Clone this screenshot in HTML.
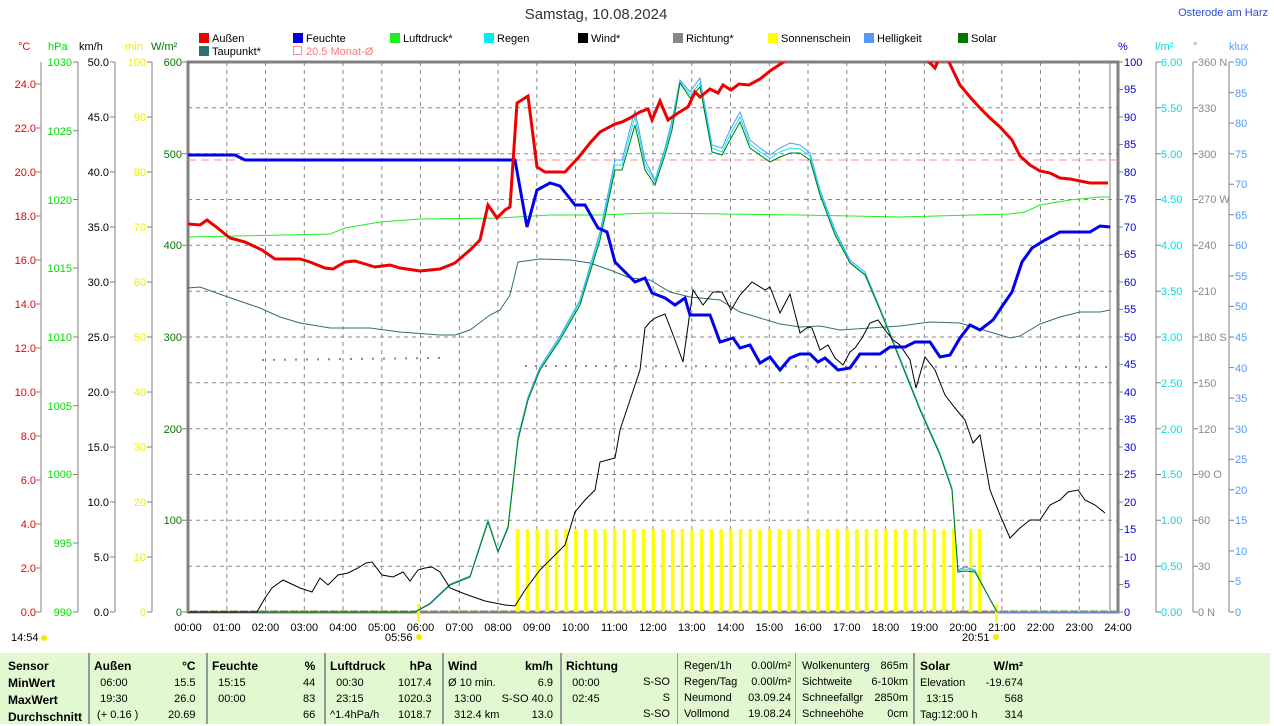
<!DOCTYPE html>
<html><head><meta charset="utf-8"><style>
body{margin:0;width:1274px;height:724px;background:#fff;overflow:hidden;font-family:"Liberation Sans",sans-serif;}
svg{position:absolute;left:0;top:0}
text{font-family:"Liberation Sans",sans-serif;font-size:11px}
.tb{position:absolute;left:0;top:653px;width:1270px;height:71px;background:#e2f8d0;font-size:11px}
.c{position:absolute;top:0;height:71px;border-left:2px solid #999}
.r{position:absolute;white-space:nowrap}
b{font-weight:bold;font-size:12px}
</style></head><body>
<svg width="1274" height="724">
<defs><pattern id="sun" patternUnits="userSpaceOnUse" x="516" y="0" width="9.6875" height="10"><rect x="0" y="0" width="3.5" height="10" fill="#ffff00"/></pattern></defs>
<text x="596" y="19" font-size="14" text-anchor="middle" style="font-size:15px" fill="#333">Samstag, 10.08.2024</text>
<text x="1268" y="16" text-anchor="end" fill="#2a4adf">Osterode am Harz</text>
<!-- legend -->
<g>
<rect x="199" y="33" width="10" height="10" fill="#e00"/><text x="212" y="42">Außen</text>
<rect x="293" y="33" width="10" height="10" fill="#00d"/><text x="306" y="42">Feuchte</text>
<rect x="390" y="33" width="10" height="10" fill="#2e2"/><text x="403" y="42">Luftdruck*</text>
<rect x="484" y="33" width="10" height="10" fill="#0ee"/><text x="497" y="42">Regen</text>
<rect x="578" y="33" width="10" height="10" fill="#000"/><text x="591" y="42">Wind*</text>
<rect x="673" y="33" width="10" height="10" fill="#888"/><text x="686" y="42">Richtung*</text>
<rect x="768" y="33" width="10" height="10" fill="#ff0"/><text x="781" y="42">Sonnenschein</text>
<rect x="864" y="33" width="10" height="10" fill="#59f"/><text x="877" y="42">Helligkeit</text>
<rect x="958" y="33" width="10" height="10" fill="#070"/><text x="971" y="42">Solar</text>
<rect x="199" y="46" width="10" height="10" fill="#2f7070"/><text x="212" y="55">Taupunkt*</text>
<rect x="293.5" y="46.5" width="8" height="8" fill="none" stroke="#f88"/><text x="306" y="55" fill="#f77">20.5 Monat-Ø</text>
</g>
<!-- unit headers -->
<text x="18" y="50" fill="#e00">°C</text><text x="48" y="50" fill="#0d0">hPa</text><text x="79" y="50">km/h</text><text x="125" y="50" fill="#ee0">min</text><text x="151" y="50" fill="#070">W/m²</text>
<text x="1118" y="50" fill="#00d">%</text><text x="1155" y="50" fill="#0dd">l/m²</text><text x="1193" y="50" fill="#888">°</text><text x="1229" y="50" fill="#59f">klux</text>
<!-- grid -->
<g stroke="#888" stroke-dasharray="4,4" stroke-width="1">
<path d="M188 107.8H1118M188 153.7H1118M188 199.5H1118M188 245.3H1118M188 291.2H1118M188 337H1118M188 382.8H1118M188 428.7H1118M188 474.5H1118M188 520.3H1118M188 566.2H1118"/>
<path d="M226.8 62V612M265.5 62V612M304.3 62V612M343 62V612M381.8 62V612M420.5 62V612M459.3 62V612M498 62V612M536.8 62V612M575.5 62V612M614.3 62V612M653 62V612M691.8 62V612M730.5 62V612M769.3 62V612M808 62V612M846.8 62V612M885.5 62V612M924.3 62V612M963 62V612M1001.8 62V612M1040.5 62V612M1079.3 62V612"/>
</g>
<!-- axes lines -->
<g stroke="#808080" fill="none">
<path d="M41 62V612M78 62V612M115 62V612M152 62V612M1156 62V612M1193 62V612M1229 62V612"/>
<rect x="188" y="62" width="930" height="550" stroke-width="3"/>
<path d="M1110 62V612" stroke-width="1"/>
</g>
<!-- sunshine -->
<rect x="516" y="529" width="440" height="83" fill="url(#sun)"/>
<rect x="969" y="529" width="3.5" height="83" fill="#ff0"/><rect x="978" y="529" width="3.5" height="83" fill="#ff0"/>
<line x1="188" y1="611" x2="1118" y2="611" stroke="#ee0" stroke-dasharray="2,8"/>
<rect x="417" y="604" width="3" height="18" fill="#ff0"/><rect x="995" y="604" width="3" height="18" fill="#ff0"/>
<!-- direction dots -->
<line x1="262" y1="360" x2="440" y2="358" stroke="#888" stroke-dasharray="2,9" stroke-width="2"/>
<line x1="525" y1="366" x2="1110" y2="367" stroke="#888" stroke-dasharray="2,8" stroke-width="2"/>
<!-- monthly avg -->
<line x1="188" y1="160" x2="1118" y2="160" stroke="#f88" stroke-dasharray="8,5"/>
<!-- pressure -->
<polyline fill="none" stroke="#2e2" points="188,237 330,234 345,228 380,222 420,219 500,218 550,215 600,215 650,213 800,215 900,217 1010,214 1025,212 1040,205 1070,200 1100,197 1110,197"/>
<!-- dewpoint -->
<polyline fill="none" stroke="#2f7070" points="188,288 200,287 225,296 260,308 280,317 300,323 330,328 370,328 400,332 440,335 455,335 470,330 490,315 500,310 510,295 518,262 540,259 570,260 590,263 610,270 630,278 650,280 670,292 690,297 720,300 740,312 760,318 780,324 800,327 820,326 840,330 870,328 900,326 930,322 960,323 990,332 1010,338 1020,336 1040,324 1060,317 1080,312 1100,312 1110,310"/>
<!-- helligkeit / regen / solar -->
<polyline fill="none" stroke="#59f" points="188,612 415,612 430,603 450,584 470,576 488,520 498,551 508,526 518,437 528,397 540,367 560,336 580,300 600,232 615,160 622,160 635,110 645,160 655,180 665,148 672,120 680,80 690,92 700,78 712,145 722,148 730,130 740,112 750,140 760,148 770,155 780,148 790,143 800,145 810,153 820,190 835,230 850,260 865,272 880,308 900,358 920,408 940,453 952,488 958,570 965,567 975,570 985,590 997,612 1118,612"/>
<polyline fill="none" stroke="#0ee" points="188,612 415,612 430,604 450,585 470,577 488,521 498,552 508,527 518,439 528,399 540,369 560,338 580,302 600,236 615,165 622,165 635,117 645,165 655,182 665,151 672,125 680,82 690,95 700,83 712,148 722,152 730,135 740,117 750,144 760,152 770,158 780,152 790,148 800,149 810,156 820,192 835,232 850,262 865,274 880,309 900,359 920,409 940,454 952,489 958,571 965,569 975,571 985,590 997,612"/>
<polyline fill="none" stroke="#070" points="188,612 415,612 430,604 450,585 470,577 488,522 498,552 508,528 518,440 528,400 540,370 560,340 580,305 600,240 615,170 622,170 635,125 645,170 655,185 665,155 672,130 680,83 690,98 700,87 712,152 722,155 730,140 740,122 750,148 760,155 770,162 780,157 790,153 800,153 810,160 820,195 835,235 850,263 865,275 880,310 900,360 920,410 940,455 952,490 958,572 965,571 975,572 985,590 997,612"/>
<!-- wind -->
<polyline fill="none" stroke="#000" points="188,612 257,612 265,598 272,588 283,580 300,588 312,592 320,578 328,585 338,575 348,573 358,568 366,563 372,562 382,575 393,577 403,572 410,581 418,570 425,568 432,567 440,572 450,588 465,594 485,601 505,605 515,606 525,590 540,570 550,560 565,545 575,512 585,500 595,490 600,462 615,458 620,430 635,385 640,370 645,328 650,322 655,318 665,314 675,340 683,362 693,290 703,305 713,292 722,292 731,310 740,295 752,282 765,290 770,287 780,313 790,294 800,333 808,327 812,328 820,350 828,345 835,358 843,365 850,352 855,348 862,338 870,323 878,320 885,330 893,340 900,345 910,360 916,388 925,357 935,370 945,395 955,408 965,420 973,443 980,435 990,490 1000,515 1010,538 1020,528 1030,520 1040,520 1050,505 1060,500 1068,492 1078,490 1085,500 1095,505 1105,513"/>
<!-- humidity -->
<polyline fill="none" stroke="#00e" stroke-width="3" points="188,155 235,155 245,160 515,160 527,227 537,190 550,183 560,186 575,205 585,205 598,228 607,232 615,262 625,272 635,282 645,278 652,293 665,298 675,305 685,298 690,315 710,315 720,342 733,338 740,348 750,345 760,363 770,357 780,370 790,358 800,354 810,354 818,362 825,358 838,370 850,368 860,354 880,354 890,347 905,347 915,342 930,342 940,357 950,355 960,338 970,325 980,330 993,320 1003,305 1012,292 1022,262 1032,248 1045,240 1060,232 1090,232 1100,226 1110,227"/>
<!-- temperature -->
<svg x="188" y="62" width="930" height="550" viewBox="188 62 930 550" overflow="hidden">
<polyline fill="none" stroke="#e00" stroke-width="3" points="188,224 200,225 207,220 215,226 230,238 245,242 262,250 275,259 300,259 310,262 325,268 333,269 345,262 355,261 365,264 375,267 390,265 400,268 420,271 440,269 455,263 470,250 480,240 488,205 497,218 505,210 510,207 517,103 528,96 537,167 545,172 565,172 578,158 590,143 600,132 615,124 622,122 630,118 640,112 648,109 652,120 660,101 668,120 678,113 688,107 695,92 700,97 710,89 718,93 723,85 731,90 739,84 749,85 760,79 770,71 785,61 800,55 880,55 900,60 925,58 935,68 940,56 948,60 960,85 970,97 980,108 990,118 1000,127 1012,140 1020,156 1030,165 1040,171 1050,173 1060,178 1070,179 1080,181 1090,183 1108,183"/>
</svg>
<!-- left ticks -->
<g fill="#e00" text-anchor="end">
<text x="36" y="616">0.0</text><text x="36" y="572">2.0</text><text x="36" y="528">4.0</text><text x="36" y="484">6.0</text><text x="36" y="440">8.0</text><text x="36" y="396">10.0</text><text x="36" y="352">12.0</text><text x="36" y="308">14.0</text><text x="36" y="264">16.0</text><text x="36" y="220">18.0</text><text x="36" y="176">20.0</text><text x="36" y="132">22.0</text><text x="36" y="88">24.0</text>
</g>
<g stroke="#808080"><path d="M36 612h5M36 568h5M36 524h5M36 480h5M36 436h5M36 392h5M36 348h5M36 304h5M36 260h5M36 216h5M36 172h5M36 128h5M36 84h5"/>
<path d="M73 612h5M73 543h5M73 474.5h5M73 405.8h5M73 337h5M73 268h5M73 199.5h5M73 130.8h5M73 62h5"/>
<path d="M110 612h5M110 557h5M110 502h5M110 447h5M110 392h5M110 337h5M110 282h5M110 227h5M110 172h5M110 117h5M110 62h5"/>
<path d="M147 612h5M147 557h5M147 502h5M147 447h5M147 392h5M147 337h5M147 282h5M147 227h5M147 172h5M147 117h5M147 62h5"/>
<path d="M182 612h5M182 520.3h5M182 428.7h5M182 337h5M182 245.3h5M182 153.7h5M182 62h5"/>
</g>
<g fill="#0d0" text-anchor="end"><text x="72" y="616">990</text><text x="72" y="547">995</text><text x="72" y="478">1000</text><text x="72" y="410">1005</text><text x="72" y="341">1010</text><text x="72" y="272">1015</text><text x="72" y="204">1020</text><text x="72" y="135">1025</text><text x="72" y="66">1030</text></g>
<g fill="#000" text-anchor="end"><text x="109" y="616">0.0</text><text x="109" y="561">5.0</text><text x="109" y="506">10.0</text><text x="109" y="451">15.0</text><text x="109" y="396">20.0</text><text x="109" y="341">25.0</text><text x="109" y="286">30.0</text><text x="109" y="231">35.0</text><text x="109" y="176">40.0</text><text x="109" y="121">45.0</text><text x="109" y="66">50.0</text></g>
<g fill="#ee0" text-anchor="end"><text x="146" y="616">0</text><text x="146" y="561">10</text><text x="146" y="506">20</text><text x="146" y="451">30</text><text x="146" y="396">40</text><text x="146" y="341">50</text><text x="146" y="286">60</text><text x="146" y="231">70</text><text x="146" y="176">80</text><text x="146" y="121">90</text><text x="146" y="66">100</text></g>
<g fill="#070" text-anchor="end"><text x="182" y="616">0</text><text x="182" y="524">100</text><text x="182" y="433">200</text><text x="182" y="341">300</text><text x="182" y="249">400</text><text x="182" y="158">500</text><text x="182" y="66">600</text></g>
<!-- right ticks -->
<g stroke="#808080"><path id="rt" d="M1118 612h5M1118 584.5h5M1118 557h5M1118 529.5h5M1118 502h5M1118 474.5h5M1118 447h5M1118 419.5h5M1118 392h5M1118 364.5h5M1118 337h5M1118 309.5h5M1118 282h5M1118 254.5h5M1118 227h5M1118 199.5h5M1118 172h5M1118 144.5h5M1118 117h5M1118 89.5h5M1118 62h5"/>
<path d="M1156 612h5M1156 566.2h5M1156 520.3h5M1156 474.5h5M1156 428.7h5M1156 382.8h5M1156 337h5M1156 291.2h5M1156 245.3h5M1156 199.5h5M1156 153.7h5M1156 107.8h5M1156 62h5"/>
<path d="M1193 612h5M1193 566.2h5M1193 520.3h5M1193 474.5h5M1193 428.7h5M1193 382.8h5M1193 337h5M1193 291.2h5M1193 245.3h5M1193 199.5h5M1193 153.7h5M1193 107.8h5M1193 62h5"/>
<path d="M1229 612h5M1229 581.4h5M1229 550.9h5M1229 520.3h5M1229 489.8h5M1229 459.2h5M1229 428.7h5M1229 398.1h5M1229 367.6h5M1229 337h5M1229 306.4h5M1229 275.9h5M1229 245.3h5M1229 214.8h5M1229 184.2h5M1229 153.7h5M1229 123.1h5M1229 92.6h5M1229 62h5"/>
</g>
<g fill="#00d"><text x="1124" y="616">0</text><text x="1124" y="588">5</text><text x="1124" y="561">10</text><text x="1124" y="533">15</text><text x="1124" y="506">20</text><text x="1124" y="478">25</text><text x="1124" y="451">30</text><text x="1124" y="423">35</text><text x="1124" y="396">40</text><text x="1124" y="368">45</text><text x="1124" y="341">50</text><text x="1124" y="313">55</text><text x="1124" y="286">60</text><text x="1124" y="258">65</text><text x="1124" y="231">70</text><text x="1124" y="203">75</text><text x="1124" y="176">80</text><text x="1124" y="148">85</text><text x="1124" y="121">90</text><text x="1124" y="93">95</text><text x="1124" y="66">100</text></g>
<g fill="#0dd"><text x="1161" y="616">0.00</text><text x="1161" y="570">0.50</text><text x="1161" y="524">1.00</text><text x="1161" y="478">1.50</text><text x="1161" y="433">2.00</text><text x="1161" y="387">2.50</text><text x="1161" y="341">3.00</text><text x="1161" y="295">3.50</text><text x="1161" y="249">4.00</text><text x="1161" y="203">4.50</text><text x="1161" y="158">5.00</text><text x="1161" y="112">5.50</text><text x="1161" y="66">6.00</text></g>
<g fill="#888"><text x="1198" y="616">0  N</text><text x="1198" y="570">30</text><text x="1198" y="524">60</text><text x="1198" y="478">90  O</text><text x="1198" y="433">120</text><text x="1198" y="387">150</text><text x="1198" y="341">180 S</text><text x="1198" y="295">210</text><text x="1198" y="249">240</text><text x="1198" y="203">270 W</text><text x="1198" y="158">300</text><text x="1198" y="112">330</text><text x="1198" y="66">360 N</text></g>
<g fill="#59f"><text x="1235" y="616">0</text><text x="1235" y="585">5</text><text x="1235" y="555">10</text><text x="1235" y="524">15</text><text x="1235" y="494">20</text><text x="1235" y="463">25</text><text x="1235" y="433">30</text><text x="1235" y="402">35</text><text x="1235" y="372">40</text><text x="1235" y="341">45</text><text x="1235" y="310">50</text><text x="1235" y="280">55</text><text x="1235" y="249">60</text><text x="1235" y="219">65</text><text x="1235" y="188">70</text><text x="1235" y="158">75</text><text x="1235" y="127">80</text><text x="1235" y="97">85</text><text x="1235" y="66">90</text></g>
<!-- x labels -->
<g text-anchor="middle">
<text x="188" y="631">00:00</text><text x="226.8" y="631">01:00</text><text x="265.5" y="631">02:00</text><text x="304.3" y="631">03:00</text><text x="343" y="631">04:00</text><text x="381.8" y="631">05:00</text><text x="420.5" y="631">06:00</text><text x="459.3" y="631">07:00</text><text x="498" y="631">08:00</text><text x="536.8" y="631">09:00</text><text x="575.5" y="631">10:00</text><text x="614.3" y="631">11:00</text><text x="653" y="631">12:00</text><text x="691.8" y="631">13:00</text><text x="730.5" y="631">14:00</text><text x="769.3" y="631">15:00</text><text x="808" y="631">16:00</text><text x="846.8" y="631">17:00</text><text x="885.5" y="631">18:00</text><text x="924.3" y="631">19:00</text><text x="963" y="631">20:00</text><text x="1001.8" y="631">21:00</text><text x="1040.5" y="631">22:00</text><text x="1079.3" y="631">23:00</text><text x="1118" y="631">24:00</text>
</g>
<text x="11" y="641">14:54</text><circle cx="44" cy="638" r="3" fill="#ee0"/>
<text x="385" y="641">05:56</text><circle cx="419" cy="637" r="3" fill="#ee0"/>
<text x="962" y="641">20:51</text><circle cx="996" cy="637" r="3" fill="#ee0"/>
</svg>
<div class="tb">
<div class="c" style="left:88px"></div><div class="c" style="left:206px"></div><div class="c" style="left:324px"></div><div class="c" style="left:442px"></div><div class="c" style="left:560px"></div><div class="c" style="left:677px;border-left:1px solid #999"></div><div class="c" style="left:795px;border-left:1px solid #999"></div><div class="c" style="left:913px"></div>
<div class="r" style="left:8px;top:5px;line-height:16px"><b>Sensor</b><br><b>MinWert</b><br><b>MaxWert</b><br><b>Durchschnitt</b></div>
<div class="r" style="left:94px;top:5px;line-height:16px"><b>Außen</b><br>&nbsp;&nbsp;06:00<br>&nbsp;&nbsp;19:30<br>&nbsp;(+ 0.16 )</div>
<div class="r" style="left:168px;top:5px;line-height:16px;text-align:right"><b>°C</b><br>15.5<br>26.0<br>20.69</div>
<div class="r" style="left:212px;top:5px;line-height:16px"><b>Feuchte</b><br>&nbsp;&nbsp;15:15<br>&nbsp;&nbsp;00:00</div>
<div class="r" style="left:303px;top:5px;line-height:16px;text-align:right"><b>%</b><br>44<br>83<br>66</div>
<div class="r" style="left:330px;top:5px;line-height:16px"><b>Luftdruck</b><br>&nbsp;&nbsp;00:30<br>&nbsp;&nbsp;23:15<br>^1.4hPa/h</div>
<div class="r" style="left:398px;top:5px;line-height:16px;text-align:right"><b>hPa</b><br>1017.4<br>1020.3<br>1018.7</div>
<div class="r" style="left:448px;top:5px;line-height:16px"><b>Wind</b><br>Ø 10 min.<br>&nbsp;&nbsp;13:00<br>&nbsp;&nbsp;312.4 km</div>
<div class="r" style="left:500px;top:5px;line-height:16px;text-align:right;width:53px"><b>km/h</b><br>6.9<br>S-SO 40.0<br>13.0</div>
<div class="r" style="left:566px;top:5px;line-height:16px"><b>Richtung</b><br>&nbsp;&nbsp;00:00<br>&nbsp;&nbsp;02:45</div>
<div class="r" style="left:640px;top:5px;line-height:16px;text-align:right;width:30px"><br>S-SO<br>S<br>S-SO</div>
<div class="r" style="left:684px;top:5px;line-height:16px">Regen/1h<br>Regen/Tag<br>Neumond<br>Vollmond</div>
<div class="r" style="left:738px;top:5px;line-height:16px;text-align:right;width:53px">0.00l/m²<br>0.00l/m²<br>03.09.24<br>19.08.24</div>
<div class="r" style="left:802px;top:5px;line-height:16px">Wolkenunterg<br>Sichtweite<br>Schneefallgr<br>Schneehöhe</div>
<div class="r" style="left:858px;top:5px;line-height:16px;text-align:right;width:50px">865m<br>6-10km<br>2850m<br>0cm</div>
<div class="r" style="left:920px;top:5px;line-height:16px"><b>Solar</b><br>Elevation<br>&nbsp;&nbsp;13:15<br>Tag:12:00 h</div>
<div class="r" style="left:970px;top:5px;line-height:16px;text-align:right;width:53px"><b>W/m²</b><br>-19.674<br>568<br>314</div>
</div>
</body></html>
